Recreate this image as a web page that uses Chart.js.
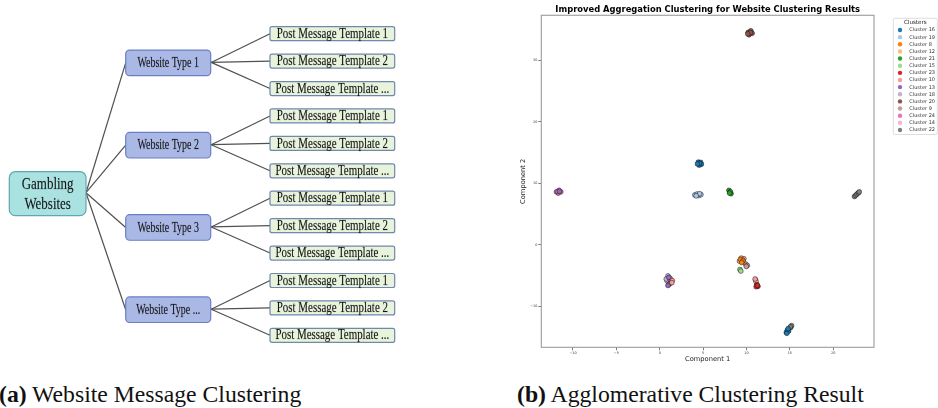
<!DOCTYPE html>
<html><head><meta charset="utf-8">
<script src="https://cdn.jsdelivr.net/npm/chart.js@4.4.1/dist/chart.umd.min.js"></script>
<style>
html,body{margin:0;padding:0;background:#fff;width:938px;height:408px;overflow:hidden;}
#diag{position:absolute;left:0;top:0;width:500px;height:370px;}
#scat{position:absolute;left:500px;top:0;width:438px;height:372px;}
.cap{position:absolute;font-family:"Liberation Serif","Times New Roman",serif;font-size:23.7px;line-height:24px;color:#111;white-space:nowrap;}
</style></head><body>
<div id="diag"><canvas id="c1"></canvas></div>
<div id="scat"><canvas id="c2"></canvas></div>
<div class="cap" style="left:-1px;top:382px"><b>(a)</b> Website Message Clustering</div>
<div class="cap" style="left:517px;top:382px"><b>(b)</b> Agglomerative Clustering Result</div>
<script>
// ---------- diagram data ----------
const rootLabel = ['Gambling', 'Websites'];
const typeLabels = ['Website Type 1', 'Website Type 2', 'Website Type 3', 'Website Type ...'];
const templateLabels = ['Post Message Template 1', 'Post Message Template 2', 'Post Message Template ...'];

// ---------- scatter data ----------
const clusterNames = ['Cluster 16','Cluster 19','Cluster 8','Cluster 12','Cluster 21','Cluster 15','Cluster 23','Cluster 10','Cluster 13','Cluster 18','Cluster 20','Cluster 9','Cluster 24','Cluster 14','Cluster 22'];
const pts16 = [[4.45,13.45],[4.72,13.4],[4.8,13.1],[4.55,12.95],[4.6,13.25],[4.35,13.15],[14.6,-14.3],[14.72,-13.95],[14.85,-14.1],[14.65,-14.45],[14.8,-13.7]];
const pts19 = [[4.05,8.1],[4.3,8.25],[4.5,8.0],[4.75,8.15],[4.6,8.3],[4.2,7.95]];
const pts8  = [[9.3,-2.4],[9.6,-2.65],[9.45,-2.9]];
const pts12 = [[9.4,-2.2],[9.7,-2.3],[9.2,-2.7],[9.55,-2.45]];
const pts21 = [[7.98,8.85],[8.1,8.55],[8.22,8.3],[8.15,8.6],[8.05,8.4]];
const pts15 = [[9.25,-4.05],[9.35,-4.3]];
const pts23 = [[11.2,-6.5],[11.32,-6.8],[11.12,-6.85],[11.25,-6.65]];
const pts10 = [[1.45,-5.85],[1.4,-6.2],[11.0,-5.6]];
const pts13 = [[1.05,-5.35],[1.2,-6.3],[0.95,-6.65],[-11.55,8.7]];
const pts18 = [[0.95,-5.1],[1.2,-5.5],[0.85,-5.9],[1.3,-6.0],[1.05,-6.5],[0.75,-5.6]];
const pts20 = [[10.2,34.6],[10.5,34.85],[10.65,34.45],[10.3,34.2],[10.45,34.55],[10.15,34.35]];
const pts9  = [[9.9,-3.15],[10.1,-3.4],[9.98,-3.55]];
const pts24 = [[-11.9,8.6],[-11.6,8.85],[-11.4,8.6],[-11.7,8.4],[-11.75,8.65]];
const pts14 = [[11.05,-5.75],[11.1,-6.05]];
const pts22 = [[22.45,7.85],[22.6,8.05],[22.75,8.25],[22.9,8.45],[23.0,8.6],[15.1,-13.5],[15.2,-13.2],[15.05,-13.4]];
const clusterPoints = [pts16,pts19,pts8,pts12,pts21,pts15,pts23,pts10,pts13,pts18,pts20,pts9,pts24,pts14,pts22];
const xTicks = [-10,-5,0,5,10,15,20];
const yTicks = [-10,0,10,20,30];

const clusterColors = ['#1f77b4','#aec7e8','#ff7f0e','#ffbb78','#2ca02c','#98df8a','#d62728','#ff9896','#9467bd','#c5b0d5','#8c564b','#c49c94','#e377c2','#f7b6d2','#7f7f7f'];

// ---------- diagram layout ----------
const LAY = {
  tplX0: 270, tplW: 124.7, tplH: 14, tplY0: 33.7, tplStep: 27.42,
  typeX0: 125.7, typeW: 85, typeH: 25.6, typeDy: 1.8,
  rootX0: 9.3, rootW: 76.7, rootH: 44, rootY: 193.7
};
const STY = {
  root: {fill:'#aae2e2', stroke:'#5fa7b1', r:6, size:17.5, sx:0.74, lh:19.5},
  type: {fill:'#aab8e6', stroke:'#6a7fc3', r:4, size:14, sx:0.71, lh:14},
  tpl:  {fill:'#e8f3dc', stroke:'#7187ad', r:2, size:14, sx:0.78, lh:14}
};
const nodes = [];
const edges = [];
const root = {x: LAY.rootX0 + LAY.rootW/2, y: LAY.rootY, w: LAY.rootW, h: LAY.rootH, lines: rootLabel, st: STY.root};
nodes.push(root);
typeLabels.forEach((tl, i) => {
  const midTplY = LAY.tplY0 + (i*3 + 1) * LAY.tplStep;
  const t = {x: LAY.typeX0 + LAY.typeW/2, y: midTplY + LAY.typeDy, w: LAY.typeW, h: LAY.typeH, lines: [tl], st: STY.type};
  nodes.push(t);
  edges.push([[LAY.rootX0 + LAY.rootW, LAY.rootY - 1], [LAY.typeX0, t.y]]);
  templateLabels.forEach((pl, j) => {
    const py = LAY.tplY0 + (i*3 + j) * LAY.tplStep;
    nodes.push({x: LAY.tplX0 + LAY.tplW/2, y: py, w: LAY.tplW, h: LAY.tplH, lines: [pl], st: STY.tpl});
    edges.push([[LAY.typeX0 + LAY.typeW + 0.5, t.y - 0.5], [LAY.tplX0, py]]);
  });
});

function rr(ctx, x, y, w, h, r) {
  ctx.beginPath();
  ctx.moveTo(x + r, y);
  ctx.arcTo(x + w, y, x + w, y + h, r);
  ctx.arcTo(x + w, y + h, x, y + h, r);
  ctx.arcTo(x, y + h, x, y, r);
  ctx.arcTo(x, y, x + w, y, r);
  ctx.closePath();
}

const nodePlugin = {
  id: 'nodes',
  afterDatasetsDraw(chart) {
    const ctx = chart.ctx, xs = chart.scales.x, ys = chart.scales.y;
    nodes.forEach(n => {
      const x1 = xs.getPixelForValue(n.x - n.w/2), x2 = xs.getPixelForValue(n.x + n.w/2);
      const y1 = ys.getPixelForValue(n.y - n.h/2), y2 = ys.getPixelForValue(n.y + n.h/2);
      ctx.save();
      rr(ctx, x1, Math.min(y1,y2), x2 - x1, Math.abs(y2 - y1), n.st.r);
      ctx.fillStyle = n.st.fill; ctx.fill();
      ctx.lineWidth = 1.2; ctx.strokeStyle = n.st.stroke; ctx.stroke();
      ctx.fillStyle = '#151515';
      ctx.strokeStyle = 'rgba(20,20,20,0.35)'; ctx.lineWidth = 0.35;
      ctx.font = n.st.size + 'px "Liberation Serif", "Times New Roman", serif';
      ctx.textAlign = 'center'; ctx.textBaseline = 'middle';
      const cx = xs.getPixelForValue(n.x), cy = ys.getPixelForValue(n.y);
      const k = n.lines.length;
      n.lines.forEach((ln, i) => {
        ctx.save();
        ctx.translate(cx, cy + (i - (k-1)/2) * n.st.lh + 0.5);
        ctx.scale(n.st.sx, 1);
        ctx.fillText(ln, 0, 0);
        ctx.strokeText(ln, 0, 0);
        ctx.restore();
      });
      ctx.restore();
    });
  }
};

new Chart(document.getElementById('c1'), {
  type: 'scatter',
  data: {
    datasets: edges.map(e => ({
      data: e.map(p => ({x: p[0], y: p[1]})),
      showLine: true, borderColor: '#505050', borderWidth: 1.2, pointRadius: 0, fill: false
    }))
  },
  options: {
    responsive: true, maintainAspectRatio: false, animation: false, events: [],
    layout: {padding: 0},
    scales: {
      x: {type: 'linear', min: 0, max: 500, display: false},
      y: {type: 'linear', min: 0, max: 370, reverse: true, display: false}
    },
    plugins: {legend: {display: false}, tooltip: {enabled: false}, title: {display: false}}
  },
  plugins: [nodePlugin]
});

// ---------- scatter ----------
const framePlugin = {
  id: 'frame',
  afterDatasetsDraw(chart) {
    const {ctx, chartArea: a} = chart;
    ctx.save();
    ctx.strokeStyle = '#9c9c9c'; ctx.lineWidth = 1.1;
    ctx.strokeRect(a.left, a.top, a.right - a.left, a.bottom - a.top);
    ctx.restore();
  },
  afterDraw(chart) {
    const ctx = chart.ctx;
    const bx = 393.3, by = 18.3, bw = 44, bh = 116.2;
    ctx.save();
    rr(ctx, bx, by, bw, bh, 1.5);
    ctx.fillStyle = 'rgba(255,255,255,0.9)'; ctx.fill();
    ctx.strokeStyle = '#d4d4d4'; ctx.lineWidth = 0.8; ctx.stroke();
    ctx.fillStyle = '#222';
    ctx.textAlign = 'center'; ctx.textBaseline = 'middle';
    ctx.font = '5.6px "DejaVu Sans"';
    ctx.fillText('Clusters', bx + bw/2, 22.9);
    ctx.textAlign = 'left';
    ctx.font = '5px "DejaVu Sans"';
    chart.data.datasets.forEach((ds, i) => {
      const y = 30 + i * 7.14;
      ctx.beginPath();
      ctx.arc(400, y, 2.2, 0, Math.PI*2);
      ctx.fillStyle = ds.backgroundColor; ctx.fill();
      ctx.fillStyle = '#333';
      ctx.fillText(ds.label, 409.3, y + 0.2);
    });
    ctx.restore();
  }
};

new Chart(document.getElementById('c2'), {
  type: 'scatter',
  data: {
    datasets: clusterNames.map((name, i) => ({
      label: name,
      data: clusterPoints[i].map(p => ({x: p[0], y: p[1]})),
      backgroundColor: clusterColors[i],
      borderColor: '#111', borderWidth: 0.5, pointRadius: 2.4, pointHoverRadius: 2.4
    }))
  },
  options: {
    responsive: true, maintainAspectRatio: false, animation: false, events: [],
    layout: {padding: {left: 0, right: 64, top: 0, bottom: 0}},
    scales: {
      x: {
        type: 'linear', min: -13.65, max: 24.7,
        afterBuildTicks: s => { s.ticks = xTicks.map(v => ({value: v})); },
        afterFit: s => { s.height = 24.7; },
        grid: {display: true, drawOnChartArea: false, drawTicks: true, tickLength: 3, color: '#444', lineWidth: 0.7},
        border: {display: false},
        ticks: {font: {family: 'DejaVu Sans', size: 3.4}, color: '#333', padding: 1, autoSkip: false, maxRotation: 0,
                callback: v => (v < 0 ? '\u2212' + Math.abs(v) : '' + v)},
        title: {display: true, text: 'Component 1', font: {family: 'DejaVu Sans', size: 6.7}, color: '#222', padding: {top: 0, bottom: 8.7}}
      },
      y: {
        type: 'linear', min: -16.73, max: 37.38,
        afterBuildTicks: s => { s.ticks = yTicks.map(v => ({value: v})); },
        afterFit: s => { s.width = 41.3; },
        grid: {display: true, drawOnChartArea: false, drawTicks: true, tickLength: 3, color: '#444', lineWidth: 0.7},
        border: {display: false},
        ticks: {font: {family: 'DejaVu Sans', size: 3.4}, color: '#333', padding: 1, autoSkip: false,
                callback: v => (v < 0 ? '\u2212' + Math.abs(v) : '' + v)},
        title: {display: true, text: 'Component 2', font: {family: 'DejaVu Sans', size: 6.7}, color: '#222', padding: {top: 19, bottom: 0}}
      }
    },
    plugins: {
      legend: {display: false}, tooltip: {enabled: false},
      title: {display: true, fullSize: false, text: 'Improved Aggregation Clustering for Website Clustering Results',
              font: {family: 'DejaVu Sans', size: 8.4, weight: 'bold'}, color: '#000', padding: {top: 5.0, bottom: 0.2}}
    }
  },
  plugins: [framePlugin]
});
</script>
</body></html>
